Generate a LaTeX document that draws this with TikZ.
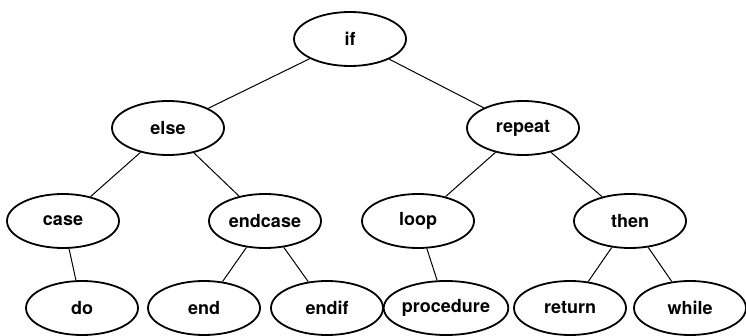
\documentclass[tikz,border=0pt]{standalone}
\usepackage{fontspec}
\setmainfont{TeX Gyre Heros}
\usetikzlibrary{shapes.geometric}
\begin{document}
\begin{tikzpicture}[x=1pt,y=-1pt,
  kw/.style={draw, ellipse, line width=1.8pt, minimum width=112pt, minimum height=54pt, inner sep=0pt,
    font=\fontsize{18}{18}\selectfont\bfseries},
  edge/.style={line width=1pt}]
\useasboundingbox (0,0) rectangle (746,336);
\node[kw] (if) at (350,39) {if};
\node[kw] (else) at (168,128) {else};
\node[kw] (repeat) at (523,128) {repeat};
\node[kw] (case) at (63,221) {case};
\node[kw] (endcase) at (265,221) {endcase};
\node[kw] (loop) at (418,221) {loop};
\node[kw] (then) at (630,221) {then};
\node[kw] (do) at (82,308) {do};
\node[kw] (end) at (204,308) {end};
\node[kw] (endif) at (327,308) {endif};
\node[kw] (procedure) at (446,308) {procedure};
\node[kw] (return) at (570,308) {return};
\node[kw] (while) at (690,308) {while};
\draw[edge] (if) -- (else);
\draw[edge] (if) -- (repeat);
\draw[edge] (else) -- (case);
\draw[edge] (else) -- (endcase);
\draw[edge] (repeat) -- (loop);
\draw[edge] (repeat) -- (then);
\draw[edge] (case) -- (do);
\draw[edge] (endcase) -- (end);
\draw[edge] (endcase) -- (endif);
\draw[edge] (loop) -- (procedure);
\draw[edge] (then) -- (return);
\draw[edge] (then) -- (while);
\end{tikzpicture}
\end{document}
